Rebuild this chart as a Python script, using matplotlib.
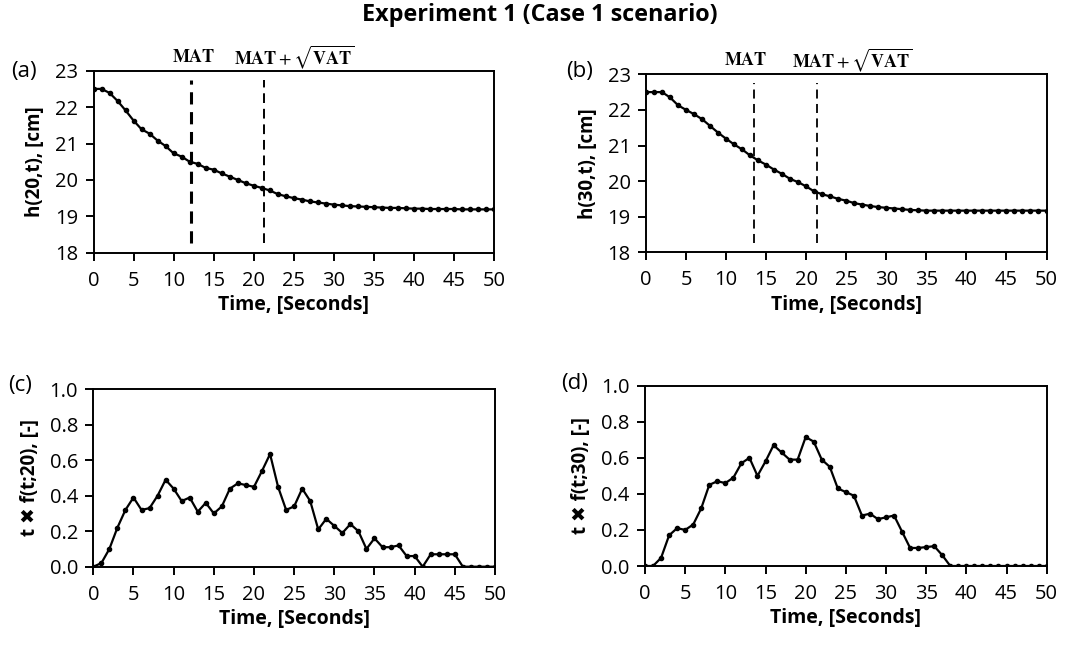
import numpy as np
import matplotlib
matplotlib.use("Agg")
import matplotlib.pyplot as plt

# ---------------- data ----------------
time_s = list(range(0, 51))

h20 = [22.50, 22.50, 22.39, 22.17, 21.91, 21.63, 21.39, 21.27, 21.08, 20.93,
       20.73, 20.64, 20.50, 20.44, 20.33, 20.28, 20.18, 20.09, 20.00, 19.91,
       19.84, 19.78, 19.71, 19.61, 19.55, 19.50, 19.46, 19.41, 19.38, 19.35,
       19.32, 19.30, 19.28, 19.27, 19.26, 19.25, 19.24, 19.23, 19.23, 19.22,
       19.21, 19.21, 19.20, 19.20, 19.20, 19.20, 19.19, 19.19, 19.19, 19.19, 19.19]

h30 = [22.50, 22.50, 22.50, 22.35, 22.13, 22.00, 21.88, 21.74, 21.55, 21.36,
       21.19, 21.03, 20.89, 20.72, 20.58, 20.46, 20.32, 20.20, 20.06, 19.97,
       19.85, 19.71, 19.63, 19.57, 19.50, 19.45, 19.38, 19.34, 19.30, 19.27,
       19.25, 19.23, 19.21, 19.19, 19.18, 19.17, 19.17, 19.17, 19.17, 19.17,
       19.17, 19.17, 19.17, 19.17, 19.17, 19.17, 19.17, 19.17, 19.17, 19.17, 19.17]

tf20 = [0.00, 0.02, 0.10, 0.22, 0.32, 0.39, 0.32, 0.33, 0.40, 0.49,
        0.44, 0.37, 0.39, 0.31, 0.36, 0.30, 0.34, 0.44, 0.47, 0.46,
        0.45, 0.54, 0.635, 0.45, 0.32, 0.34, 0.44, 0.37, 0.21, 0.27,
        0.23, 0.19, 0.24, 0.20, 0.10, 0.16, 0.11, 0.11, 0.12, 0.06,
        0.06, 0.00, 0.07, 0.07, 0.07, 0.07, 0.00, 0.00, 0.00, 0.00, 0.00]

tf30 = [0.00, 0.00, 0.045, 0.17, 0.21, 0.20, 0.23, 0.32, 0.45, 0.47,
        0.46, 0.49, 0.57, 0.60, 0.50, 0.58, 0.67, 0.63, 0.59, 0.59,
        0.715, 0.69, 0.59, 0.55, 0.43, 0.41, 0.39, 0.28, 0.29, 0.26,
        0.27, 0.28, 0.19, 0.10, 0.10, 0.105, 0.11, 0.06, 0.00, 0.00,
        0.00, 0.00, 0.00, 0.00, 0.00, 0.00, 0.00, 0.00, 0.00, 0.00, 0.00]

mat_a, matvat_a = 12.2, 21.3
mat_b, matvat_b = 13.5, 21.3

h_ticks = [18, 19, 20, 21, 22, 23]
f_ticks = [0.0, 0.2, 0.4, 0.6, 0.8, 1.0]
x_ticks = list(range(0, 51, 5))

title = "Experiment 1 (Case 1 scenario)"
xlabel = "Time, [Seconds]"

# ---------------- figure ----------------
W, H = 1065, 649
plt.rcParams['font.family'] = ['Open Sans', 'DejaVu Sans']
plt.rcParams['mathtext.fontset'] = 'stix'
fig = plt.figure(figsize=(W / 100, H / 100), dpi=100)


def add_ax(left, right, top, bottom):
    return fig.add_axes([left / W, 1 - bottom / H, (right - left) / W, (bottom - top) / H])


def fx(px):
    return px / W


def fy(py):
    return 1 - py / H


def style(ax, yticks, yfmt):
    ax.set_xlim(0, 50)
    ax.set_xticks(x_ticks)
    ax.set_yticks(yticks)
    ax.set_yticklabels([yfmt.format(v) for v in yticks])
    ax.set_ylim(yticks[0], yticks[-1])
    for s in ax.spines.values():
        s.set_linewidth(1.4)
        s.set_color('black')
    ax.tick_params(direction='out', length=6, width=1.4, labelsize=14.5, colors='black')
    ax.tick_params(axis='x', pad=7)
    ax.tick_params(axis='y', pad=5)
    ax.set_xlabel(xlabel, fontsize=14, fontweight='bold', labelpad=3)


line_kw = dict(color='black', lw=1.6, marker='o', markersize=3.0)
ylab_kw = dict(fontsize=13.5, fontweight='bold', labelpad=7)

# (a)
ax_a = add_ax(93.5, 494, 70.7, 252.7)
ax_a.plot(time_s, h20, **line_kw)
style(ax_a, h_ticks, "{:d}")
ax_a.set_ylabel("h(20,t), [cm]", **ylab_kw)
ax_a.axvline(mat_a, ymin=0.055, ymax=0.95, color='black', lw=2.2, ls=(0, (4, 2.5)))
ax_a.axvline(matvat_a, ymin=0.055, ymax=0.95, color='black', lw=1.4, ls=(0, (5, 3)))

# (b)
ax_b = add_ax(646, 1046.5, 74.3, 252.3)
ax_b.plot(time_s, h30, **line_kw)
style(ax_b, h_ticks, "{:d}")
ax_b.set_ylabel("h(30,t), [cm]", **ylab_kw)
ax_b.axvline(mat_b, ymin=0.055, ymax=0.95, color='black', lw=1.3, ls=(0, (5, 3)))
ax_b.axvline(matvat_b, ymin=0.055, ymax=0.95, color='black', lw=1.3, ls=(0, (5, 3)))

# (c)
ax_c = add_ax(93.3, 495, 389.3, 566.7)
ax_c.plot(time_s, tf20, **line_kw)
style(ax_c, f_ticks, "{:.1f}")
ax_c.set_ylabel("t \u2716 f(t;20), [-]", **ylab_kw)

# (d)
ax_d = add_ax(645, 1046.7, 385.7, 566)
ax_d.plot(time_s, tf30, **line_kw)
style(ax_d, f_ticks, "{:.1f}")
ax_d.set_ylabel("t \u2716 f(t;30), [-]", **ylab_kw)

# title and annotations
fig.text(fx(540), fy(15), title, ha='center', va='center', fontsize=16.8, fontweight='bold')

mat_lbl = r'$\mathbf{MAT}$'
matvat_lbl = r'$\mathbf{MAT} + \sqrt{\mathbf{VAT}}$'
fig.text(fx(193.5), fy(57), mat_lbl, ha='center', va='center', fontsize=13)
fig.text(fx(294.5), fy(57), matvat_lbl, ha='center', va='center', fontsize=13)
fig.text(fx(745.5), fy(60), mat_lbl, ha='center', va='center', fontsize=13)
fig.text(fx(852), fy(60), matvat_lbl, ha='center', va='center', fontsize=13)

for lbl, x, y in [("(a)", 24, 72), ("(b)", 580, 72), ("(c)", 20, 385), ("(d)", 575, 383)]:
    fig.text(fx(x), fy(y), lbl, ha='center', va='center', fontsize=16)

fig.savefig("out.png", dpi=100)
